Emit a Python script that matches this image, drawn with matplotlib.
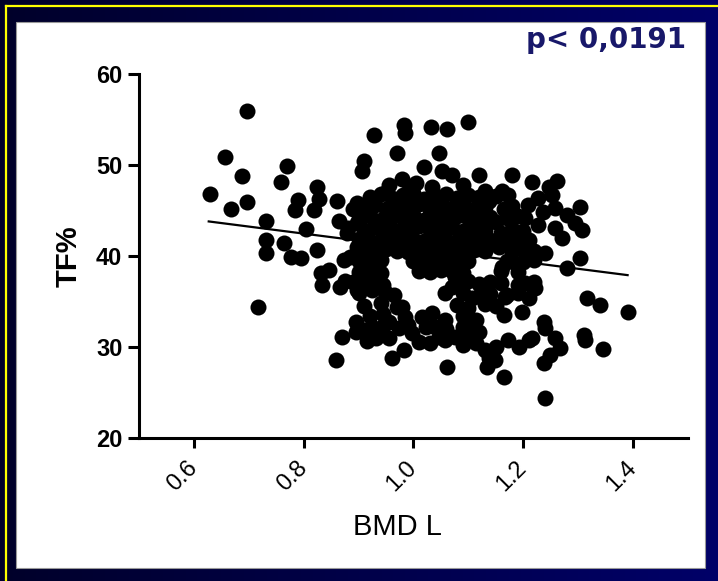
import matplotlib
matplotlib.use("Agg")
import matplotlib.pyplot as plt
import numpy as np
from matplotlib.colors import LinearSegmentedColormap
from matplotlib.patches import Rectangle

plt.rcParams['font.family'] = ['Liberation Sans', 'DejaVu Sans']

# ---- data (BMD L vs TF%) ----
# left side / outliers
left_bmd = [0.629, 0.656, 0.667, 0.688, 0.696, 0.696, 0.716, 0.731, 0.732, 0.731,
            0.759, 0.769, 0.764, 0.776, 0.795, 0.789, 0.785, 0.825, 0.827, 0.818,
            0.804, 0.824, 0.831, 0.846, 0.834, 0.867, 0.873, 0.861, 0.897, 0.864,
            0.879, 0.898, 0.898, 0.885, 0.889, 0.858, 0.870, 0.897, 0.876]
left_tf = [46.8, 50.9, 45.2, 48.8, 45.9, 55.9, 34.4, 43.8, 41.8, 40.3,
           48.1, 49.9, 41.4, 39.9, 39.8, 46.2, 45.1, 47.6, 46.3, 45.1,
           43.0, 40.7, 38.1, 38.5, 36.8, 36.6, 39.6, 46.0, 45.8, 43.8,
           42.5, 43.6, 41.0, 39.9, 45.2, 28.6, 31.1, 36.3, 37.2]

# upper scattered points
top_bmd = [0.910, 0.907, 0.928, 0.982, 0.985, 1.031, 1.061, 1.100, 0.970, 1.019,
           1.047, 0.979, 1.052, 1.070, 1.119, 0.991, 1.034, 1.131, 1.137, 0.949,
           0.955, 1.005, 1.090, 1.179, 1.216, 1.261, 1.246]
top_tf = [50.4, 49.3, 53.3, 54.4, 53.5, 54.2, 54.0, 54.7, 51.3, 49.8,
          51.3, 48.5, 49.3, 48.9, 48.9, 47.3, 47.6, 47.1, 46.0, 46.9,
          47.8, 48.0, 47.8, 48.9, 48.1, 48.2, 47.6]

# right cluster
right_bmd = [1.304, 1.280, 1.295, 1.307, 1.161, 1.173, 1.164, 1.209, 1.227, 1.253,
             1.204, 1.235, 1.258, 1.227, 1.258, 1.271, 1.151, 1.160, 1.156, 1.304,
             1.280, 1.240, 1.161, 1.185, 1.204, 1.222, 1.167, 1.191, 1.210]
right_tf = [45.4, 44.5, 43.6, 42.9, 47.1, 46.7, 45.2, 45.6, 46.4, 46.7,
            44.2, 44.8, 45.3, 43.4, 43.1, 42.0, 43.7, 42.5, 41.0, 39.75,
            38.65, 40.3, 38.8, 39.2, 37.0, 36.45, 35.5, 35.9, 35.35]

# lower right
lowr_bmd = [1.316, 1.340, 1.390, 1.237, 1.240, 1.258, 1.267, 1.249, 1.237, 1.310,
            1.313, 1.346, 1.239, 1.173, 1.192, 1.210, 1.216, 1.164, 1.164, 1.198,
            1.149, 1.150]
lowr_tf = [35.35, 34.6, 33.8, 32.8, 32.05, 31.0, 29.9, 29.1, 28.2, 31.3,
           30.8, 29.75, 24.4, 30.8, 30.0, 30.8, 31.0, 26.7, 33.5, 33.9,
           28.6, 30.0]

# lower band
band_bmd = [1.061, 0.961, 1.134, 1.137, 1.107, 1.128, 1.113, 1.107, 0.895, 0.895,
            0.925, 0.931, 0.955, 0.973, 0.998, 1.016, 1.034, 1.058, 1.046, 1.076,
            1.095, 1.113, 1.131, 1.143, 1.022, 0.982, 1.040, 1.058, 0.901, 0.925,
            0.949, 0.979, 0.985, 1.070, 1.058, 1.076, 0.920, 0.945, 1.090, 0.910,
            0.945, 0.990, 1.060, 1.090, 1.120, 0.915, 0.955, 1.010, 1.030, 1.090]
band_tf = [27.8, 28.8, 27.8, 28.8, 35.35, 35.2, 33.0, 32.05, 32.8, 31.7,
           32.2, 31.0, 32.8, 32.05, 31.5, 33.3, 33.7, 33.0, 31.1, 31.1,
           31.3, 30.4, 29.7, 29.3, 32.2, 29.7, 32.2, 30.8, 35.9, 36.3,
           36.1, 34.4, 33.3, 36.6, 35.9, 37.7, 33.4, 33.6, 33.4, 31.9,
           32.3, 32.4, 32.0, 32.2, 31.6, 30.7, 31.0, 30.6, 30.4, 30.2]

# dense centre
core_bmd = [0.92, 0.94, 0.96, 0.98, 1.00, 1.02, 1.04, 1.06, 1.08, 1.10, 1.12, 1.15,
            0.91, 0.93, 0.95, 0.97, 0.99, 1.01, 1.03, 1.05, 1.07, 1.09, 1.11, 1.13, 1.18,
            0.90, 0.92, 0.94, 0.96, 0.98, 1.00, 1.02, 1.04, 1.06, 1.08, 1.10, 1.12, 1.14, 1.17, 1.19,
            0.88, 0.91, 0.93, 0.95, 0.97, 0.99, 1.01, 1.03, 1.05, 1.07, 1.09, 1.11, 1.13, 1.18, 1.20,
            0.90, 0.92, 0.94, 0.96, 0.98, 1.00, 1.02, 1.04, 1.06, 1.08, 1.10, 1.12, 1.14, 1.17, 1.19, 1.21,
            0.91, 0.93, 0.95, 0.97, 0.99, 1.01, 1.03, 1.05, 1.07, 1.09, 1.11, 1.13, 1.18, 1.20, 1.22,
            0.90, 0.92, 0.94, 1.00, 1.02, 1.04, 1.06, 1.08, 1.10, 1.17, 1.20, 1.22,
            0.90, 0.92, 0.94, 1.01, 1.03, 1.05, 1.07, 1.09, 1.16, 1.19,
            0.89, 0.91, 0.93, 0.945, 1.08, 1.10, 1.12, 1.14, 1.16, 1.19, 1.22,
            0.965, 1.09, 1.12, 1.14, 1.17,
            0.91, 0.94, 0.97, 1.08, 1.10, 1.13, 1.15]
core_tf = [46.5, 46.8, 46.4, 46.7, 46.9, 46.3, 46.6, 46.8, 46.4, 46.7, 46.5, 46.6,
           45.3, 45.6, 45.2, 45.5, 45.4, 45.7, 45.1, 45.5, 45.3, 45.6, 45.2, 45.4, 45.5,
           44.1, 44.4, 44.0, 44.3, 44.2, 44.5, 44.0, 44.3, 44.1, 44.4, 44.2, 44.0, 44.3, 44.2, 44.4,
           43.1, 42.9, 43.2, 43.0, 42.8, 43.1, 43.3, 42.9, 43.0, 43.2, 42.8, 43.1, 42.9, 43.0, 42.7,
           41.9, 41.7, 41.8, 42.0, 41.6, 41.9, 41.7, 42.0, 41.8, 41.6, 41.9, 41.7, 41.8, 41.9, 41.6, 41.8,
           40.7, 40.5, 40.8, 40.6, 40.4, 40.7, 40.5, 40.8, 40.6, 40.4, 40.7, 40.5, 40.6, 40.8, 40.5,
           39.5, 39.3, 39.6, 39.4, 39.2, 39.5, 39.3, 39.6, 39.4, 39.5, 39.3, 39.6,
           38.2, 38.4, 38.1, 38.4, 38.2, 38.5, 38.3, 38.1, 38.4, 38.2,
           37.1, 36.9, 37.2, 36.8, 37.0, 37.2, 36.9, 37.1, 37.0, 36.8, 37.1,
           35.7, 35.9, 35.6, 35.8, 35.7,
           34.5, 34.8, 34.4, 34.6, 34.3, 34.7, 34.5]

# regression line end points
fit_bmd = [0.627, 1.39]
fit_tf = [43.8, 37.9]

x_ticks = [0.6, 0.8, 1.0, 1.2, 1.4]
x_labels = ['0.6', '0.8', '1.0', '1.2', '1.4']
y_ticks = [20, 30, 40, 50, 60]

bmd = left_bmd + top_bmd + right_bmd + lowr_bmd + band_bmd + core_bmd
tf = left_tf + top_tf + right_tf + lowr_tf + band_tf + core_tf

fig = plt.figure(figsize=(7.18, 5.81), dpi=100)

# slide background
bg = fig.add_axes([0, 0, 1, 1], zorder=0)
grad = np.linspace(0, 1, 256).reshape(1, -1)
navy = LinearSegmentedColormap.from_list('navy', ['#00002a', '#000068'])
bg.imshow(grad, extent=[0, 1, 0, 1], aspect='auto', cmap=navy)
bg.add_patch(Rectangle((0.0223, 0.0224), 0.9596, 0.9398, facecolor='white',
                       edgecolor='#999999', lw=0.8))
bg.plot([0.0077, 1], [0.9905, 0.9905], color='#ffff00', lw=1.6)
bg.plot([0.0077, 0.0077], [0, 0.9905], color='#ffff00', lw=1.6)
bg.set_xlim(0, 1)
bg.set_ylim(0, 1)
bg.axis('off')

ax = fig.add_axes([0.1936, 0.2461, 0.7646, 0.6265], zorder=1)
ax.patch.set_alpha(0)
ax.scatter(bmd, tf, s=133, c='black', linewidths=0, zorder=3)
ax.plot(fit_bmd, fit_tf, color='black', lw=1.6, zorder=2)

ax.set_xlim(0.5, 1.5)
ax.set_ylim(20, 60)
ax.spines['top'].set_visible(False)
ax.spines['right'].set_visible(False)
ax.spines['left'].set_linewidth(2.2)
ax.spines['bottom'].set_linewidth(2.2)

ax.set_xticks(x_ticks)
ax.set_xticklabels(x_labels, rotation=45, ha='right', va='center', rotation_mode='anchor')
ax.set_yticks(y_ticks)
for lab in ax.get_yticklabels():
    lab.set_fontweight('bold')
ax.tick_params(axis='y', length=8, width=2.2, labelsize=17, pad=4)
ax.tick_params(axis='x', length=7, width=2.2, labelsize=17, pad=12)

ax.set_xlabel('BMD L', fontsize=21, va='center')
ax.xaxis.set_label_coords(0.47, -0.245)
ax.set_ylabel('TF%', fontsize=21, fontweight='bold', va='center')
ax.yaxis.set_label_coords(-0.129, 0.5)

fig.text(0.955, 0.931, 'p< 0,0191', fontsize=20, fontweight='bold',
         color='#18186a', ha='right', va='center', family='DejaVu Sans')

plt.savefig('out.png', dpi=100)
